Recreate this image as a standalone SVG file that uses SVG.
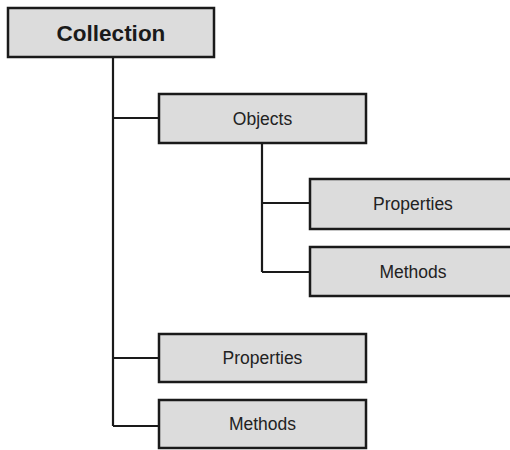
<svg xmlns="http://www.w3.org/2000/svg" width="510" height="450" viewBox="0 0 510 450">
<style>
.box{fill:#dcdcdc;stroke:#1a1a1a;stroke-width:2.5}
.lbl{font-family:"Liberation Sans",Arial,sans-serif;font-size:17.5px;fill:#222;text-anchor:middle}
.title{font-family:"Liberation Sans",Arial,sans-serif;font-size:22.5px;font-weight:bold;fill:#1a1a1a;text-anchor:middle}
.conn{fill:none;stroke:#1a1a1a;stroke-width:2.2}
</style>
<rect width="510" height="450" fill="#ffffff"/>
<g id="connectors">
<path class="conn" d="M113,57 V426 M113,118 H159 M113,358 H159 M113,426 H159"/>
<path class="conn" d="M262,143 V272 M262,203 H310 M262,272 H310"/>
</g>
<g id="collection">
<rect class="box" x="8" y="8" width="206" height="49"/>
<text class="title" x="111" y="40.5">Collection</text>
</g>
<g id="objects">
<rect class="box" x="159" y="94" width="207" height="49"/>
<text class="lbl" x="262.5" y="124.5">Objects</text>
</g>
<g id="obj-properties">
<rect class="box" x="310" y="179" width="208" height="50"/>
<text class="lbl" x="413" y="210">Properties</text>
</g>
<g id="obj-methods">
<rect class="box" x="310" y="247" width="208" height="49"/>
<text class="lbl" x="413" y="277.5">Methods</text>
</g>
<g id="properties">
<rect class="box" x="159" y="334" width="207" height="48"/>
<text class="lbl" x="262.5" y="364">Properties</text>
</g>
<g id="methods">
<rect class="box" x="159" y="400" width="207" height="48"/>
<text class="lbl" x="262.5" y="430">Methods</text>
</g>
</svg>
